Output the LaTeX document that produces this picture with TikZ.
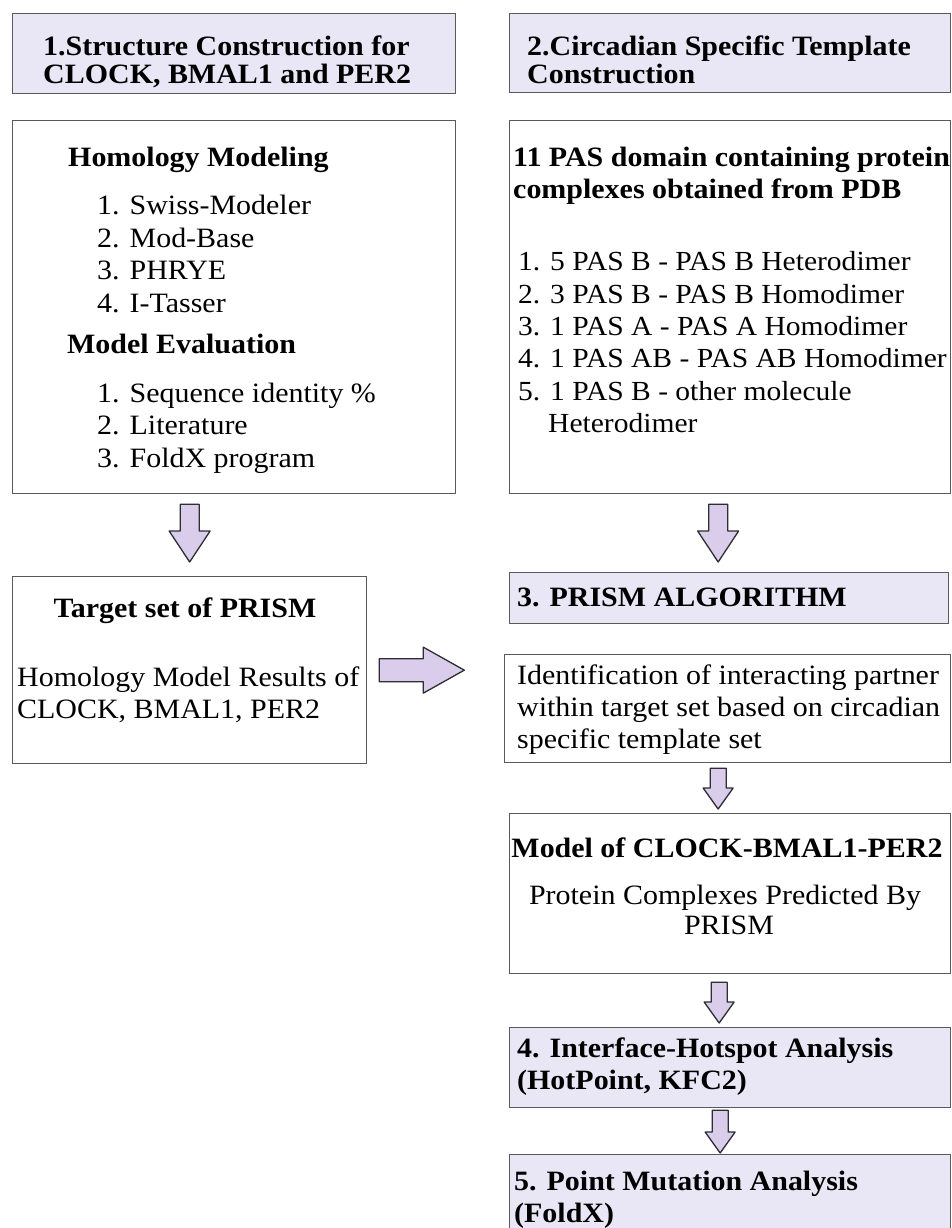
\documentclass[tikz,border=0pt]{standalone}
\usepackage{fontspec}
\setmainfont{Liberation Serif}[FakeStretch=1.07]
\usetikzlibrary{calc}
\definecolor{hdrfill}{RGB}{233,231,245}
\definecolor{arrfill}{RGB}{217,205,235}
\definecolor{bordergray}{RGB}{90,90,90}
\definecolor{arredge}{RGB}{45,45,50}
\tikzset{
  box/.style={draw=bordergray, line width=1.3pt, inner sep=0pt, anchor=north west},
  hdr/.style={box, fill=hdrfill},
  txt/.style={anchor=base west, inner sep=0pt},
  ctxt/.style={anchor=base, inner sep=0pt},
  bigbold/.style={font=\fontsize{28}{30}\selectfont\bfseries},
  reg/.style={font=\fontsize{28}{30}\selectfont},
  regs/.style={font=\fontsize{27.6}{30}\selectfont},
  blk/.style={fill=arrfill, draw=arredge, line width=1.3pt, line join=round}
}
\newcommand\vblock[5]{\filldraw[blk] ($(#1)+(-#3,0)$) -- ($(#1)+(#3,0)$) -- ($(#2)+(#3,-#5)$) -- ($(#2)+(#4,-#5)$) -- (#2) -- ($(#2)+(-#4,-#5)$) -- ($(#2)+(-#3,-#5)$) -- cycle;}
\newcommand\hblock[5]{\filldraw[blk] ($(#1)+(0,-#3)$) -- ($(#2)+(-#5,-#3)$) -- ($(#2)+(-#5,-#4)$) -- (#2) -- ($(#2)+(-#5,#4)$) -- ($(#2)+(-#5,#3)$) -- ($(#1)+(0,#3)$) -- cycle;}
\begin{document}
\begin{tikzpicture}[x=1pt,y=-1pt]
\useasboundingbox[fill=white] (0,0) rectangle (951,1228);
% boxes
\node[hdr, minimum width=443pt, minimum height=80pt] (H1) at (12,13) {};
\node[hdr, minimum width=441pt, minimum height=79pt] (H2) at (509,13) {};
\node[box, minimum width=443pt, minimum height=373pt] (M1) at (12,120) {};
\node[box, minimum width=441pt, minimum height=373pt] (M2) at (509,120) {};
\node[box, minimum width=354pt, minimum height=187pt] (T) at (12,576) {};
\node[hdr, minimum width=439pt, minimum height=51pt] (P) at (509,572) {};
\node[box, minimum width=446pt, minimum height=108pt] (I) at (504,654) {};
\node[box, minimum width=441pt, minimum height=160pt] (Mo) at (509,813) {};
\node[hdr, minimum width=441pt, minimum height=80pt] (B4) at (509,1027) {};
\node[hdr, minimum width=441pt, minimum height=90pt] (B5) at (509,1154) {};
% header texts
\node[txt, bigbold] (h1a) at (43,56) {1.Structure Construction for};
\node[txt, bigbold] (h1b) at (43,84) {CLOCK, BMAL1 and PER2};
\node[txt, bigbold] (h2a) at (527,56) {2.Circadian Specific Template};
\node[txt, bigbold] (h2b) at (527,84) {Construction};
% left main
\node[txt, bigbold] (hm) at (68,166) {Homology Modeling};
\node[txt, reg] (l1) at (97,214) {1. Swiss-Modeler};
\node[txt, reg] (l2) at (97,247) {2. Mod-Base};
\node[txt, reg] (l3) at (97,279) {3. PHRYE};
\node[txt, reg] (l4) at (97,312) {4. I-Tasser};
\node[txt, bigbold] (me) at (67,353) {Model Evaluation};
\node[txt, reg] (e1) at (97,402) {1. Sequence identity \%};
\node[txt, reg] (e2) at (97,434) {2. Literature};
\node[txt, reg] (e3) at (97,467) {3. FoldX program};
% right main
\node[txt, bigbold] (r0a) at (513,166) {11 PAS domain containing protein};
\node[txt, bigbold] (r0b) at (513,198) {complexes obtained from PDB};
\node[txt, regs] (r1) at (518,270) {1. 5 PAS B - PAS B Heterodimer};
\node[txt, regs] (r2) at (518,303) {2. 3 PAS B - PAS B Homodimer};
\node[txt, regs] (r3) at (518,335) {3. 1 PAS A - PAS A Homodimer};
\node[txt, regs] (r4) at (518,367) {4. 1 PAS AB - PAS AB Homodimer};
\node[txt, regs] (r5) at (518,400) {5. 1 PAS B - other molecule};
\node[txt, regs] (r6) at (548,432) {Heterodimer};
% target box
\node[ctxt, bigbold] (t0) at (185,617) {Target set of PRISM};
\node[txt, reg] (t1) at (17,686) {Homology Model Results of};
\node[txt, reg] (t2) at (17,718) {CLOCK, BMAL1, PER2};
% prism
\node[txt, bigbold] (p0) at (517,606) {3. PRISM ALGORITHM};
% identification
\node[txt, reg] (i1) at (517,684) {Identification of interacting partner};
\node[txt, reg] (i2) at (517,716) {within target set based on circadian};
\node[txt, reg] (i3) at (517,748) {specific template set};
% model
\node[ctxt, bigbold] (mo0) at (727,857) {Model of CLOCK-BMAL1-PER2};
\node[ctxt, reg] (mo1) at (725,904) {Protein Complexes Predicted By};
\node[ctxt, reg] (mo2) at (729,934) {PRISM};
% box 4, 5
\node[txt, bigbold] (b4a) at (517,1057) {4. Interface-Hotspot Analysis};
\node[txt, bigbold] (b4b) at (517,1089) {(HotPoint, KFC2)};
\node[txt, bigbold] (b5a) at (514,1190) {5. Point Mutation Analysis};
\node[txt, bigbold] (b5b) at (514,1222) {(FoldX)};
% arrows
\coordinate (a1s) at ($(M1.south -| T.north)+(0,10)$);
\coordinate (a1e) at ($(T.north)+(0,-14)$);
\vblock{a1s}{a1e}{9.5}{20.5}{31}
\coordinate (a2s) at ($(M2.south)+(-12,10)$);
\coordinate (a2e) at ($(P.north)+(-11,-10)$);
\vblock{a2s}{a2e}{9.5}{20.5}{31}
\coordinate (a3s) at ($(T.east)+(12,0)$);
\coordinate (a3e) at ($(T.east)+(97,0)$);
\hblock{a3s}{a3e}{11.5}{23}{41}
\coordinate (a4s) at ($(I.south -| a2s)+(0,5)$);
\coordinate (a4e) at ($(Mo.north -| a2s)+(0,-4)$);
\vblock{a4s}{a4e}{8}{15}{21}
\coordinate (a5s) at ($(Mo.south -| a2s)+(1,8)$);
\coordinate (a5e) at ($(B4.north -| a2s)+(1,-4)$);
\vblock{a5s}{a5e}{8}{15}{21}
\coordinate (a6s) at ($(B4.south -| a2s)+(2,2)$);
\coordinate (a6e) at ($(B5.north -| a2s)+(2,-1)$);
\vblock{a6s}{a6e}{8}{15}{21}
\end{tikzpicture}
\end{document}
